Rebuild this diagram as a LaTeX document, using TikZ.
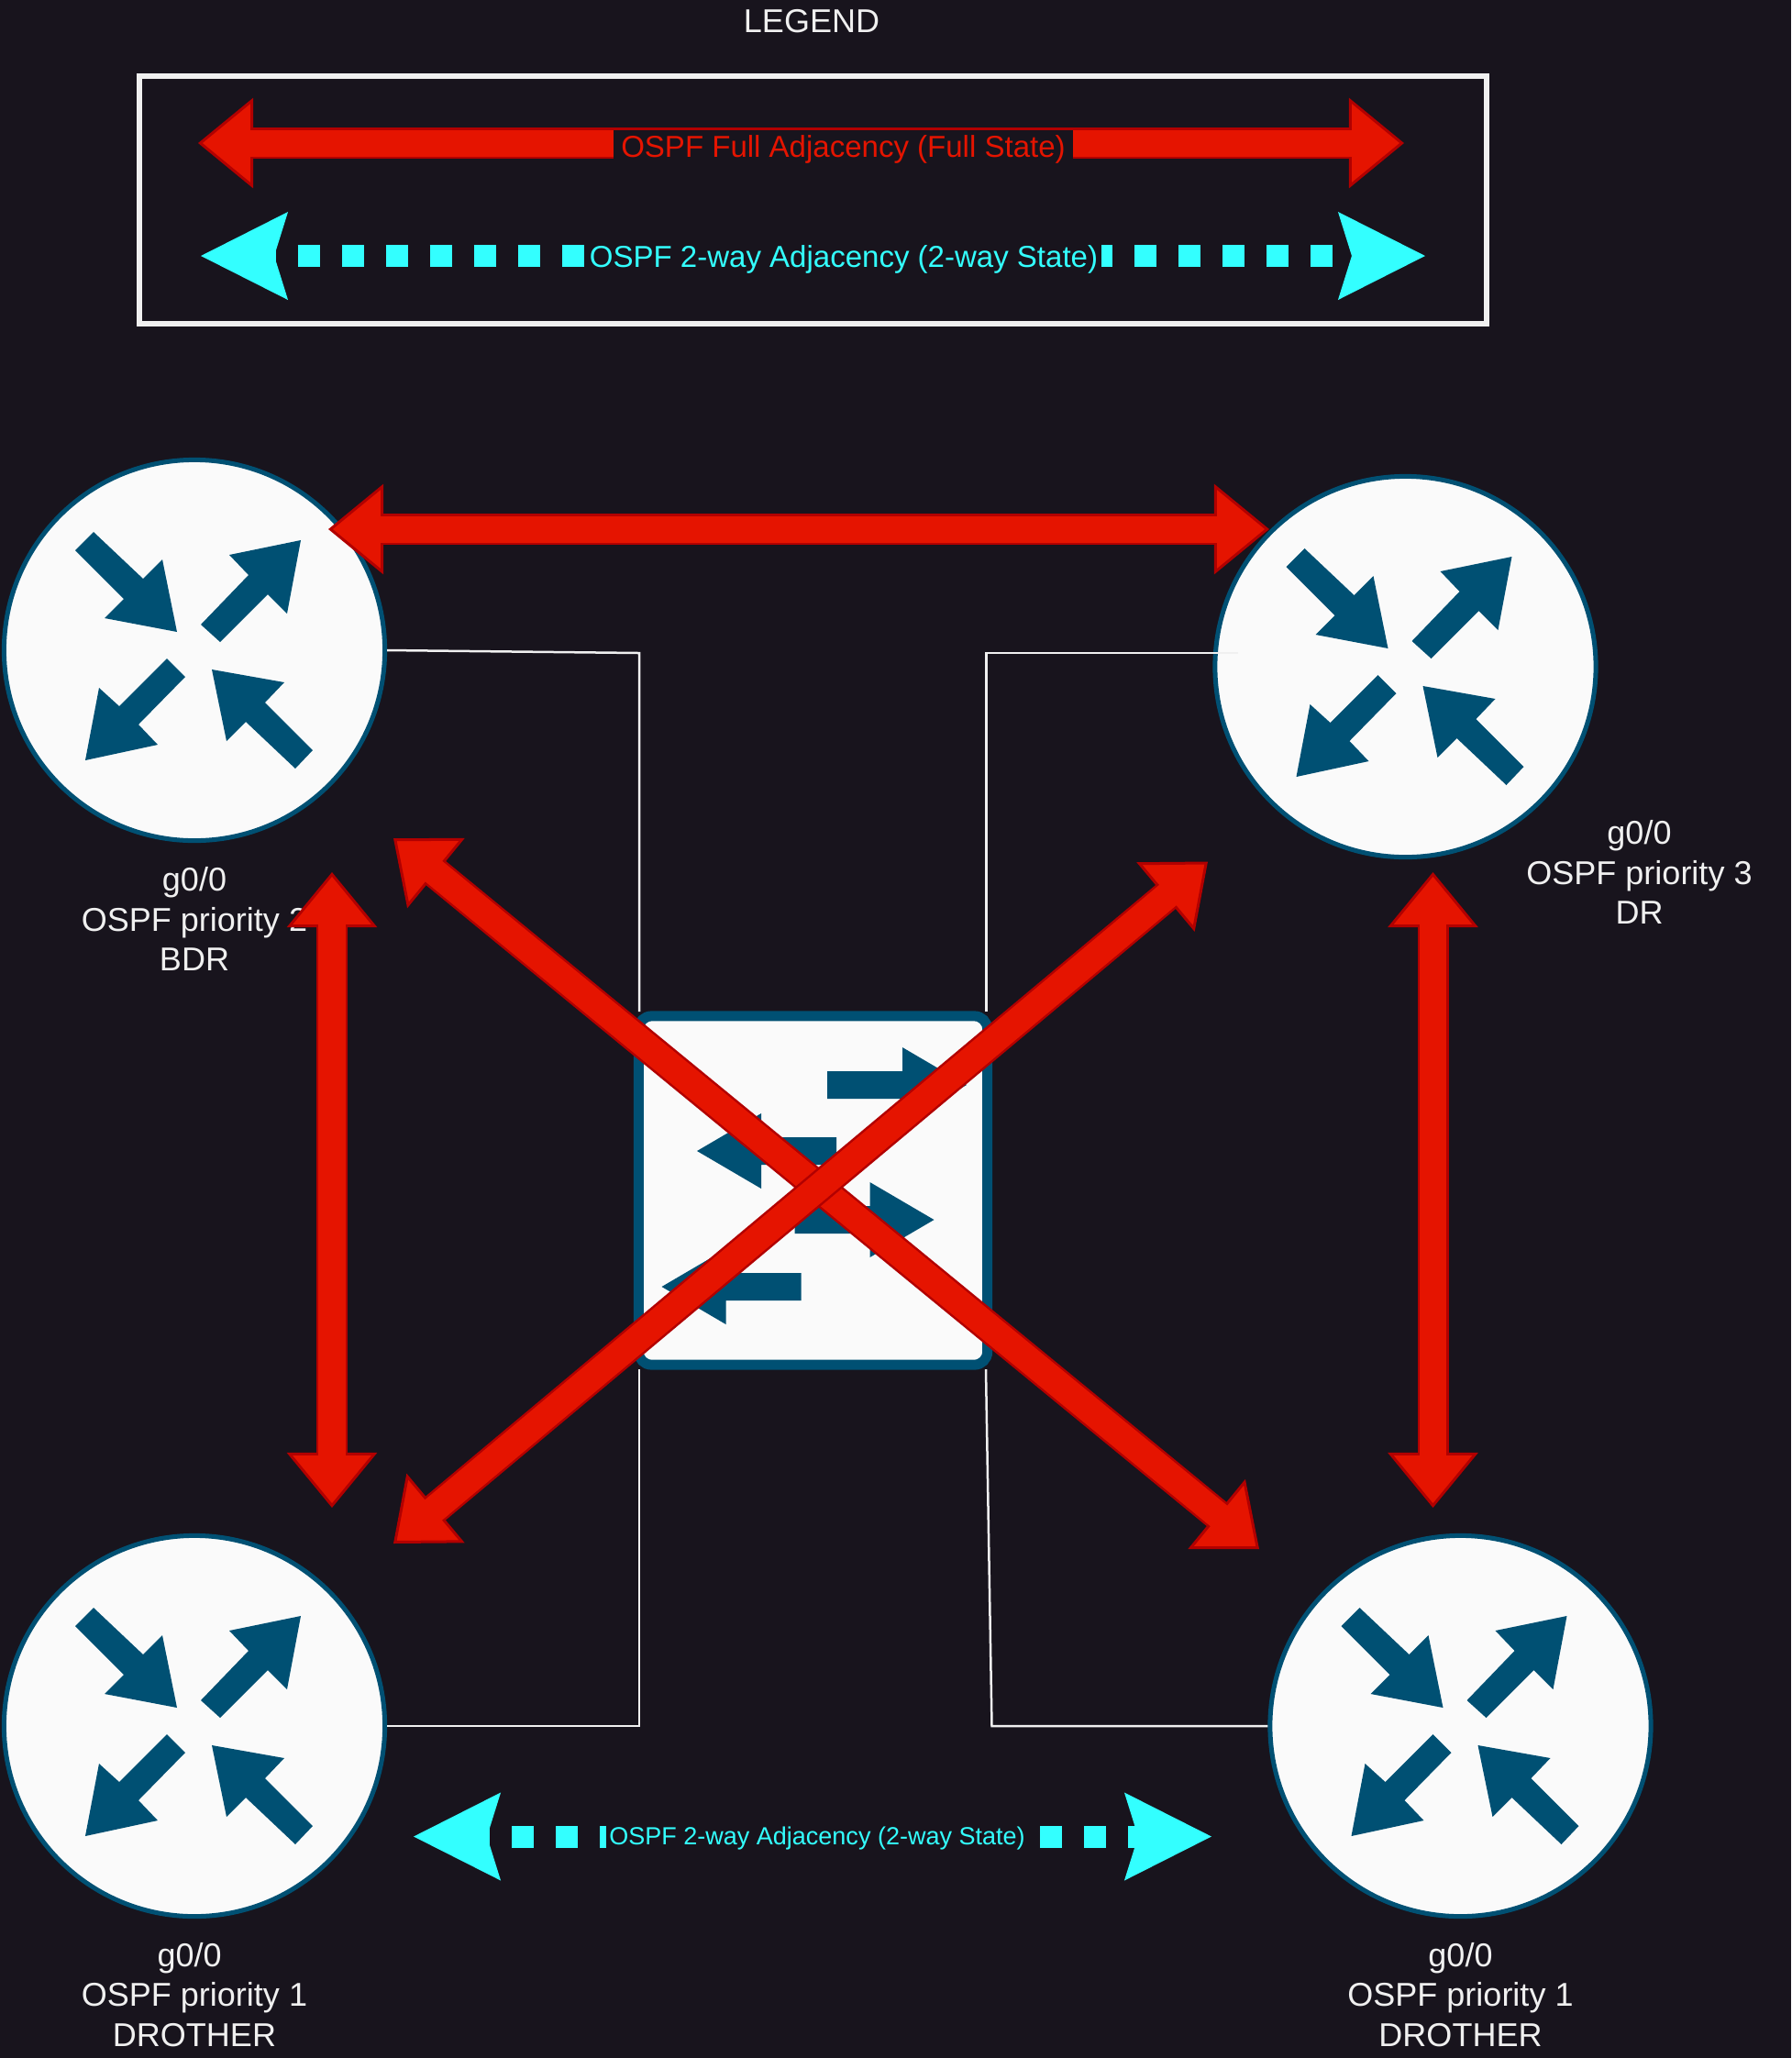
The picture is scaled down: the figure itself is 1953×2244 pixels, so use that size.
\documentclass[tikz,border=0pt]{standalone}
\usepackage{fontspec}
\setmainfont{Liberation Sans}
\usetikzlibrary{arrows.meta}
\definecolor{bgdark}{HTML}{18141D}
\definecolor{netblue}{HTML}{005073}
\definecolor{iconwhite}{HTML}{FAFAFA}
\definecolor{textwhite}{HTML}{F0F0F0}
\definecolor{fullred}{HTML}{E51400}
\definecolor{fullline}{HTML}{B20000}
\definecolor{waycyan}{HTML}{33FFFF}
\tikzset{
    router/.style={circle, draw=netblue, fill=iconwhite, line width=0.5mm, minimum size=4.15cm, inner sep=0pt},
    switchbox/.style={rectangle, rounded corners=1.4mm, draw=netblue, fill=iconwhite, line width=1.1mm, minimum size=3.8cm, inner sep=0pt},
    link/.style={draw=textwhite, line width=0.25mm},
    legendbox/.style={rectangle, draw=textwhite, line width=0.6mm, minimum width=14.69cm, minimum height=2.69cm, inner sep=0pt},
    caption/.style={text=textwhite, align=center, font=\fontsize{10.24pt}{12.3pt}\selectfont, inner sep=0pt},
    fulllabel/.style={text=fullred, fill=bgdark, font=\fontsize{9.39pt}{11pt}\selectfont, inner xsep=0.85mm, inner ysep=0pt, text height=3mm, text depth=0.3mm},
    waylabel/.style={text=waycyan, fill=bgdark, font=\fontsize{#1}{11pt}\selectfont, inner xsep=0.35mm, inner ysep=0pt, text height=3.2mm, text depth=0.9mm},
    fullarrow/.style={draw=fullline, line width=3.4mm,
        {Triangle[length=6mm, width=9.8mm, line width=0.3mm, fill=fullred, color=fullline]}-{Triangle[length=6mm, width=9.8mm, line width=0.3mm, fill=fullred, color=fullline]},
        postaction={draw=fullred, line width=2.9mm, arrows=-, shorten <=5mm, shorten >=5mm}},
    wayarrow/.style={draw=waycyan, line width=2.4mm, dash pattern=on 2.4mm off 2.4mm, dash phase=2.4mm,
        {Stealth[length=9.5mm, width=9.6mm, inset=1.5mm, fill=waycyan, color=waycyan, line width=0pt]}-{Stealth[length=9.5mm, width=9.6mm, inset=1.5mm, fill=waycyan, color=waycyan, line width=0pt]}},
    routericon/.pic={
        \fill[netblue] (-130,-109) -- (-110,-129) -- (-56,-78) -- (-35,-99) -- (-19,-20) -- (-98,-35) -- (-77,-56) -- cycle;
        \fill[netblue] (7,-28) -- (28,-9) -- (80,-61) -- (101,-40) -- (116,-120) -- (38,-104) -- (59,-82) -- cycle;
        \fill[netblue] (-30,9) -- (-10,29) -- (-61,81) -- (-40,103) -- (-119,120) -- (-104,41) -- (-82,61) -- cycle;
        \fill[netblue] (19,21) -- (98,35) -- (77,57) -- (129,109) -- (110,129) -- (56,78) -- (35,99) -- cycle;
    },
    switchicon/.pic={
        \foreach \ax/\ay/\adir in {91.5/-115/1, -50.5/-43/-1, 56/32/1, -89/105/-1} {
            \fill[netblue, shift={(\ax,\ay)}, xscale=\adir] (-76,-15) -- (6,-15) -- (6,-41) -- (76,0) -- (6,41) -- (6,15) -- (-76,15) -- cycle;
        }
    }
}
\begin{document}
\begin{tikzpicture}[x=0.01cm, y=-0.01cm]
    \fill[bgdark] (0,0) rectangle (1953,2244);
    \useasboundingbox (0,0) rectangle (1953,2244);

    \node[caption] (legendtitle) at (885,23) {LEGEND};
    \node[legendbox] (legend) at (886.5,218) {};

    \coordinate (fullA) at (216,156);
    \coordinate (fullB) at (1531,156);
    \draw[fullarrow] (fullA) -- (fullB);
    \node[fulllabel] (fulltext) at (919.5,158) {OSPF Full Adjacency (Full State)};

    \coordinate (wayA) at (219,279);
    \coordinate (wayB) at (1554,279);
    \draw[wayarrow, dash phase=2.25mm] (wayA) -- (wayB);
    \node[waylabel=9.39pt] (waytext) at (920,280) {OSPF 2-way Adjacency (2-way State)};

    \node[router] (bdr) at (212,709) {};
    \node[router] (dr) at (1532.5,727) {};
    \node[router] (otherA) at (212,1882) {};
    \node[router] (otherB) at (1592.5,1882) {};
    \node[switchbox] (sw) at (886.5,1298) {};
    \pic at (bdr) {routericon};
    \pic at (dr) {routericon};
    \pic at (otherA) {routericon};
    \pic at (otherB) {routericon};
    \pic at (sw) {switchicon};

    \coordinate (swTL) at (697,1103);
    \coordinate (swTR) at (1075.5,1103);
    \coordinate (swBL) at (697,1493);
    \coordinate (swBR) at (1075,1493);
    \coordinate (drin) at (1350,712);
    \draw[link] (bdr.east) -- (swTL |- drin) -- (swTL);
    \draw[link] (swTR) -- (swTR |- drin) -- (drin);
    \draw[link] (swBL) |- (otherA.east);
    \draw[link] (swBR) -- (1081.5,1882) -- (otherB.west);

    \node[caption] (bdrtext) at (212,1002) {g0/0\\OSPF priority 2\\BDR};
    \node[caption] (drtext) at (1787.5,951) {g0/0\\OSPF priority 3\\DR};
    \node[caption] (otherAtext) at (212,2175) {g0/0\hspace*{3pt}\\OSPF priority 1\\DROTHER};
    \node[caption] (otherBtext) at (1592.5,2175) {g0/0\\OSPF priority 1\\DROTHER};

    \coordinate (topA) at (358,577);
    \coordinate (topB) at (1384,577);
    \coordinate (leftA) at (362,951);
    \coordinate (leftB) at (362,1644);
    \coordinate (rightA) at (1562.5,951);
    \coordinate (rightB) at (1562.5,1644);
    \coordinate (diagA) at (429,914);
    \coordinate (diagB) at (1373,1689);
    \coordinate (diagC) at (1317,939.5);
    \coordinate (diagD) at (429,1683);
    \draw[fullarrow] (topA) -- (topB);
    \draw[fullarrow] (leftA) -- (leftB);
    \draw[fullarrow] (rightA) -- (rightB);
    \draw[fullarrow] (diagA) -- (diagB);
    \draw[fullarrow] (diagC) -- (diagD);

    \coordinate (wayC) at (451,2002.5);
    \coordinate (wayD) at (1321,2002.5);
    \draw[wayarrow, dash phase=2.1mm] (wayC) -- (wayD);
    \node[waylabel=7.68pt] (waytextB) at (891,2000) {OSPF 2-way Adjacency (2-way State)};
\end{tikzpicture}
\end{document}
